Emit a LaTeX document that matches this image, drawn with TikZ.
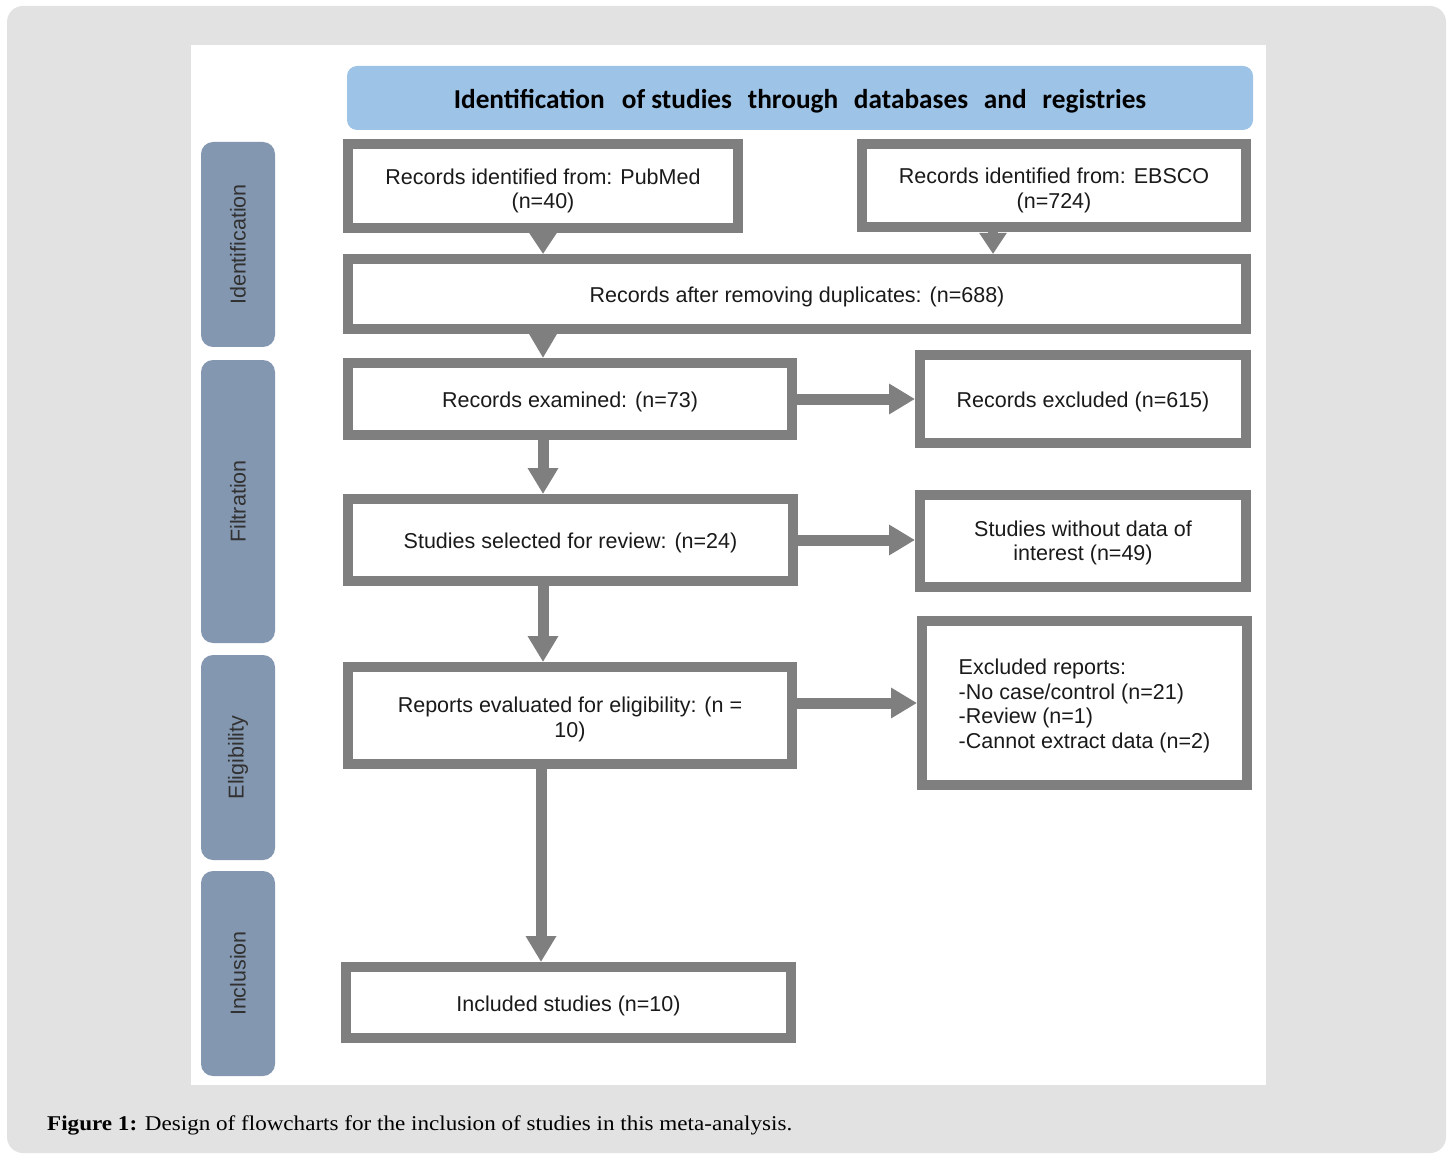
\documentclass[tikz,border=0pt]{standalone}
\usepackage{fontspec}
\setmainfont{Liberation Sans}
\newfontfamily\capfont[FakeStretch=1.1]{Liberation Serif}
\newfontfamily\titlefont{Carlito}
\usetikzlibrary{arrows.meta}
\definecolor{panel}{HTML}{E2E2E2}
\definecolor{boxgray}{HTML}{7F7F7F}
\definecolor{hdrblue}{HTML}{9DC3E6}
\definecolor{pillblue}{HTML}{8497B0}
\definecolor{ink}{HTML}{1A1A1A}
\begin{document}
\begin{tikzpicture}[x=1pt,y=-1pt,
  box/.style={draw=boxgray, line width=10pt, fill=white, inner sep=0pt, align=center,
    text=ink, font=\fontsize{21.5}{24.5}\selectfont},
  oneline/.style={text height=21.5pt},
  pill/.style={fill=pillblue, rounded corners=12pt, inner sep=0pt, rotate=90,
    text=ink!90, font=\fontsize{21.5}{24}\selectfont, minimum height=74pt},
  flow/.style={draw=boxgray, line width=11pt, -{Triangle[width=29pt,length=26pt]}},
  shortflow/.style={draw=boxgray, line width=10pt, -{Triangle[width=26pt,length=#1]}},
]
\useasboundingbox (0,0) rectangle (1453,1155);
\fill[white] (0,0) rectangle (1453,1155);
\fill[panel, rounded corners=16pt] (7,6) rectangle (1446,1153);
\fill[white] (191,45) rectangle (1266,1085);

% header
\node[fill=hdrblue, rounded corners=10pt, minimum width=906pt, minimum height=64pt, inner sep=0pt,
  font=\titlefont\bfseries\fontsize{27.3}{30}\selectfont, text=black, text height=26.5pt, text depth=5pt] (hdr) at (800,98)
  {Identification\hspace{0.4em} of studies\hspace{0.35em} through\hspace{0.35em} databases\hspace{0.35em} and\hspace{0.35em} registries};

% phase pills
\node[pill, minimum width=205pt] (p1) at (238,244.5) {Identification};
\node[pill, minimum width=283pt] (p2) at (238,501.5) {Filtration};
\node[pill, minimum width=205pt] (p3) at (238,757.5) {Eligibility};
\node[pill, minimum width=205pt] (p4) at (238,973.5) {Inclusion};

% boxes
\node[box, minimum width=390pt, minimum height=84pt, text height=50pt] (pub) at (543,186)
  {Records identified from: PubMed\\(n=40)};
\node[box, minimum width=384pt, minimum height=83pt, text height=50pt] (ebs) at (1054,185.5)
  {Records identified from: EBSCO\\(n=724)};
\node[box, oneline, minimum width=898pt, minimum height=70pt] (dup) at (797,294)
  {Records after removing duplicates: (n=688)};
\node[box, oneline, minimum width=444pt, minimum height=72pt] (exam) at (570,399)
  {Records examined: (n=73)};
\node[box, oneline, minimum width=326pt, minimum height=88pt] (excl) at (1083,399)
  {Records excluded (n=615)};
\node[box, oneline, minimum width=445pt, minimum height=82pt] (sel) at (570.5,540)
  {Studies selected for review: (n=24)};
\node[box, minimum width=326pt, minimum height=92pt, text height=44pt] (wo) at (1083,541)
  {Studies without data of\\interest (n=49)};
\node[box, minimum width=444pt, minimum height=97pt, text height=48pt] (rep) at (570,715.5)
  {Reports evaluated for eligibility: (n =\\10)};
\node[box, minimum width=325pt, minimum height=164pt, align=left, text height=95pt] (exrep) at (1084.5,703)
  {Excluded reports:\\-No case/control (n=21)\\-Review (n=1)\\-Cannot extract data (n=2)};
\node[box, oneline, minimum width=445pt, minimum height=71pt] (inc) at (568.5,1002.5)
  {Included studies (n=10)};

% connectors
\coordinate (eb) at ([xshift=-61pt]ebs.south);
\draw[shortflow=21pt] (pub.south) -- (pub.south |- dup.north);
\draw[shortflow=21pt] (eb) -- (eb |- dup.north);
\draw[shortflow=24pt] (pub.south |- dup.south) -- (pub.south |- exam.north);
\draw[flow] (exam.east) -- (excl.west);
\draw[flow] (pub.south |- exam.south) -- (pub.south |- sel.north);
\draw[flow] (sel.east) -- (sel.east -| wo.west);
\draw[flow] (pub.south |- sel.south) -- (pub.south |- rep.north);
\draw[flow] (rep.east |- exrep.west) -- (exrep.west);
\coordinate (rx) at ([xshift=-2pt]pub.south);
\draw[flow] (rx |- rep.south) -- (rx |- inc.north);

% caption
\node[anchor=base west, inner sep=0pt, font=\capfont\fontsize{21}{24}\selectfont, text=black] (cap) at (47,1130)
  {\textbf{Figure 1:} Design of flowcharts for the inclusion of studies in this meta-analysis.};
\end{tikzpicture}
\end{document}
